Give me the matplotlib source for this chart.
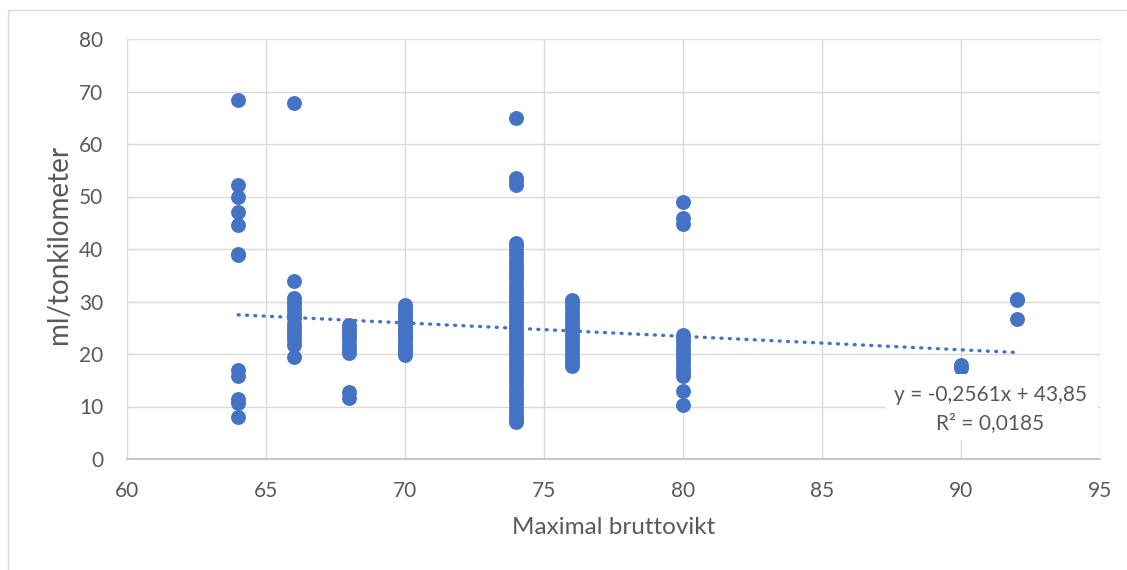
import matplotlib
matplotlib.use("Agg")
import matplotlib.pyplot as plt
from matplotlib.patches import Rectangle
import numpy as np

# ---- data ----
x64 = [68.4, 52.2, 49.9, 47.0, 44.5, 39.0, 38.8, 17.0, 15.8, 11.5, 10.6, 8.0]
x66 = [67.8, 33.9, 30.6, 30.0, 29.3, 28.5, 27.6, 26.8, 25.8, 25.0, 24.2, 23.4, 22.6, 21.8, 19.4]
x68 = [25.6, 25.0, 24.2, 23.4, 22.6, 21.8, 21.0, 20.2, 12.7, 11.6]
x70 = [29.3, 28.7, 28.0, 27.4, 26.8, 26.2, 25.6, 25.0, 24.4, 23.8, 23.2, 22.6,
       22.0, 21.4, 20.8, 20.2, 19.8]
x74 = [65.0, 53.5, 53.0, 52.2, 41.2, 40.5, 39.6, 38.8, 38.0, 37.2, 36.4, 35.6, 35.0,
       34.2, 33.4, 32.6, 31.8, 31.0, 30.3, 29.6, 28.9, 28.2, 27.5, 26.8, 26.1, 25.4,
       24.7, 24.0, 23.3, 22.6, 21.9, 21.2, 20.5, 19.8, 19.1, 18.4, 17.7, 17.0, 16.2,
       15.4, 14.6, 13.8, 13.0, 12.2, 11.4, 10.6, 9.8, 9.0, 8.2, 7.5, 7.0]
x76 = [30.2, 29.5, 28.7, 27.9, 27.1, 26.3, 25.5, 24.7, 23.9, 23.1, 22.3, 21.5,
       20.7, 19.9, 19.1, 18.3, 17.8]
x80 = [49.0, 46.0, 44.7, 23.7, 23.0, 22.2, 21.4, 20.6, 19.8, 19.0, 18.2, 17.4,
       16.6, 15.8, 13.0, 10.3]
x90 = [17.9, 17.3]
x92 = [30.5, 30.2, 26.7]

groups = {64: x64, 66: x66, 68: x68, 70: x70, 74: x74, 76: x76, 80: x80, 90: x90, 92: x92}

slope, intercept = -0.2561, 43.85
r2 = 0.0185
trend_x = [64, 92]

x_ticks = [60, 65, 70, 75, 80, 85, 90, 95]
y_ticks = [0, 10, 20, 30, 40, 50, 60, 70, 80]

xs = []
ys = []
for k, v in groups.items():
    xs += [k] * len(v)
    ys += v

blue = "#4472C4"
gray_txt = "#595959"
grid_c = "#D9D9D9"

plt.rcParams['font.family'] = ['Lato', 'DejaVu Sans']

fig = plt.figure(figsize=(11.27, 5.70), dpi=100)
fig.patches.append(Rectangle((8/1127, -0.1), 1.2, 1 - 10/570 + 0.1,
                             transform=fig.transFigure, fill=False,
                             edgecolor=grid_c, linewidth=1.0))
ax = fig.add_axes([127/1127, 1 - 459/570, (1100 - 127)/1127, (459 - 39)/570])

ax.scatter(xs, ys, s=115, color=blue, zorder=3, linewidths=0)
tx = np.array(trend_x, dtype=float)
ax.plot(tx, slope * tx + intercept, linestyle=(0, (0.3, 2.2)), color=blue,
        linewidth=2.4, dash_capstyle='round', zorder=4)

ax.set_xlim(60, 95)
ax.set_ylim(0, 80)
ax.set_xticks(x_ticks)
ax.set_yticks(y_ticks)
ax.grid(True, color=grid_c, linewidth=1.0, zorder=0)
ax.set_axisbelow(True)
for name, s in ax.spines.items():
    s.set_visible(name == 'bottom')
ax.spines['bottom'].set_color("#BFBFBF")
ax.spines['bottom'].set_linewidth(1.2)
ax.spines['bottom'].set_zorder(1)
ax.tick_params(length=0, labelsize=15, labelcolor=gray_txt)
ax.tick_params(axis='y', pad=17)
ax.tick_params(axis='x', pad=16)

fig.text(614/1127, 1 - 528/570, "Maximal bruttovikt", fontsize=17.5,
         color=gray_txt, ha='center', va='center')
fig.text(59/1127, 1 - 244/570, "ml/tonkilometer", fontsize=20,
         color=gray_txt, ha='center', va='center', rotation=90)

# trendline label with white background
ax.add_patch(Rectangle((0.779, 0.045), 0.219, 0.157, transform=ax.transAxes,
                       facecolor='white', edgecolor='none', zorder=5))
eq = "y = {:.4f}x + {:.2f}".format(slope, intercept).replace(".", ",")
rt = "R² = {:.4f}".format(r2).replace(".", ",")
ax.text(0.887, (459 - 395)/420, eq, transform=ax.transAxes, ha='center',
        va='center', fontsize=15, color=gray_txt, zorder=6)
ax.text(0.887, (459 - 423)/420, rt, transform=ax.transAxes, ha='center',
        va='center', fontsize=15, color=gray_txt, zorder=6)

fig.savefig("out.png", dpi=100)
